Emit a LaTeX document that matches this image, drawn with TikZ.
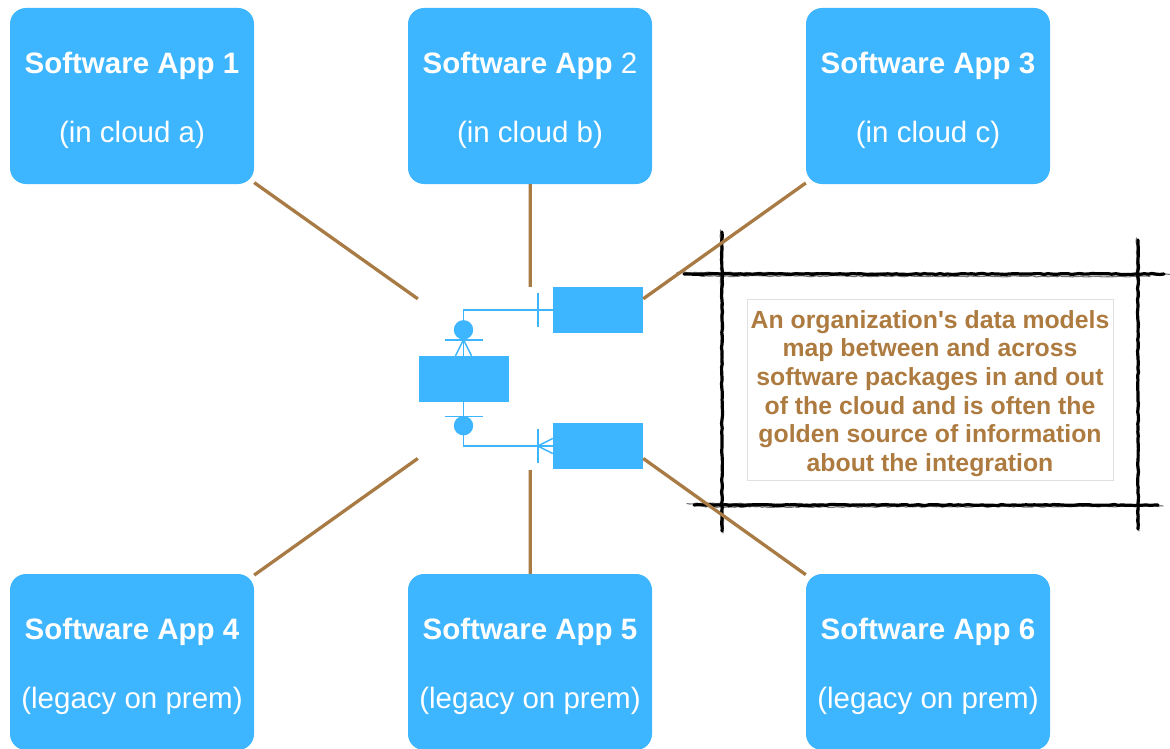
\documentclass[tikz,border=0pt]{standalone}
\usepackage{fontspec}
\setmainfont{Liberation Sans}[Ligatures=TeXOff]
\usetikzlibrary{calc,decorations.pathmorphing}
\definecolor{appblue}{HTML}{3DB5FF}
\definecolor{wire}{HTML}{A87A44}
\definecolor{notebrown}{HTML}{AD7B40}
\definecolor{notegray}{HTML}{E0E0E0}

\begin{document}
\begin{tikzpicture}[x=1pt,y=-1pt,
  app/.style={fill=appblue, rounded corners=16pt, minimum width=244pt,
    minimum height=176pt, text=white, align=center, inner sep=0pt,
    font=\fontsize{29.5}{34.5}\selectfont},
  ent/.style={fill=appblue, minimum width=90pt, minimum height=46pt, inner sep=0pt},
  group/.style={minimum width=225pt, minimum height=183pt, inner sep=0pt},
  link/.style={wire, line width=3.3pt},
  er/.style={appblue, line width=1.4pt},
  charcoal/.style={black, line width=3.2pt, line cap=round, decorate,
    decoration={random steps, segment length=4pt, amplitude=0.5pt}},
  charcoalthin/.style={black, line width=1.1pt, opacity=0.55, line cap=round, decorate,
    decoration={random steps, segment length=3pt, amplitude=0.6pt}},
  note/.style={draw=notegray, line width=0.8pt, minimum width=366pt,
    minimum height=181pt, inner sep=0pt, align=center, text=notebrown,
    font=\bfseries\fontsize{24.8}{28.6}\selectfont}
]
\useasboundingbox (0,0) rectangle (1170,749);
\pgfmathsetseed{11}

% application boxes
\node[app] (app1) at (132,96)  {\rule{0pt}{31pt}\textbf{Software App 1}\\[34.5pt](in cloud a)};
\node[app] (app2) at (530,96)  {\rule{0pt}{31pt}\textbf{Software App} 2\\[34.5pt](in cloud b)};
\node[app] (app3) at (928,96)  {\rule{0pt}{31pt}\textbf{Software App 3}\\[34.5pt](in cloud c)};
\node[app] (app4) at (132,662) {\rule{0pt}{31pt}\textbf{Software App 4}\\[34.5pt](legacy on prem)};
\node[app] (app5) at (530,662) {\rule{0pt}{31pt}\textbf{Software App 5}\\[34.5pt](legacy on prem)};
\node[app] (app6) at (928,662) {\rule{0pt}{31pt}\textbf{Software App 6}\\[34.5pt](legacy on prem)};

% data model in the middle
\node[group] (model) at (530.5,378.5) {};
\node[ent] (ent0) at (463.5,379) {};
\node[ent] (ent1) at (598,310) {};
\node[ent] (ent2) at (598,446) {};

% hand-drawn frame around the note
\draw[charcoal] (684,274) -- (1164,274);
\draw[charcoalthin] (677,272.5) -- (1170,274.5);
\draw[charcoalthin] (700,276) -- (1150,276.5);
\draw[charcoal] (694,505) -- (1158,505);
\draw[charcoalthin] (687,503.5) -- (1163,506);
\draw[charcoalthin] (705,507) -- (1140,506.5);
\draw[charcoal] (722,232) -- (722,531);
\draw[charcoalthin] (720.5,230) -- (723,533);
\draw[charcoal] (1138,240) -- (1138,529);
\draw[charcoalthin] (1136.5,238) -- (1139,531);

% links from every application to the data model
\foreach \a in {app1,app2,app3,app4,app5,app6}
  \draw[link] (\a) -- (model);

% relationship: ent0 (zero or many) -- (one) ent1
\draw[er] (ent0.north) |- (ent1.west);
\fill[appblue] ($(ent0.north)+(0,-26)$) circle (9.7pt);
\draw[er] ($(ent0.north)+(-19,-16)$) -- ($(ent0.north)+(19,-16)$);
\draw[er] ($(ent0.north)+(-8,0)$) -- ($(ent0.north)+(0,-16)$) -- ($(ent0.north)+(8,0)$);
\draw[er] ($(ent1.west)+(-15,-17)$) -- ($(ent1.west)+(-15,17)$);

% relationship: ent0 (zero or one) -- (one or many) ent2
\draw[er] (ent0.south) |- (ent2.west);
\draw[er] ($(ent0.south)+(-19,14)$) -- ($(ent0.south)+(19,14)$);
\fill[appblue] ($(ent0.south)+(0,23.5)$) circle (9.7pt);
\draw[er] ($(ent2.west)+(-15,-17)$) -- ($(ent2.west)+(-15,17)$);
\draw[er] ($(ent2.west)+(0,-7.5)$) -- ($(ent2.west)+(-15,0)$) -- ($(ent2.west)+(0,7.5)$);

% the note
\node[note] (note) at (930,389.5) {\rule{0pt}{26pt}An organization's data models\\
  map between and across\\ software packages in and out\\
  of the cloud and is often the\\ golden source of information\\
  about the integration};
\end{tikzpicture}
\end{document}
